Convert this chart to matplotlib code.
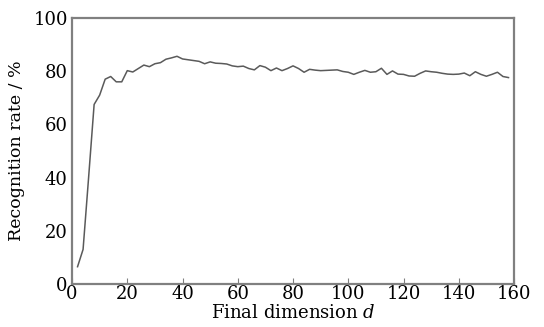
import matplotlib
matplotlib.use("Agg")
import matplotlib.pyplot as plt

dims = list(range(2, 160, 2))
rates = [6.5, 13, 40, 67.5, 71, 77, 78, 76, 76, 80.2,
         79.7, 81, 82.3, 81.7, 82.8, 83.2, 84.5, 85, 85.6, 84.6,
         84.3, 84, 83.7, 82.8, 83.5, 83, 82.9, 82.7, 82, 81.7,
         81.9, 81, 80.5, 82.1, 81.5, 80.2, 81.2, 80.2, 81, 82,
         81, 79.6, 80.7, 80.4, 80.2, 80.3, 80.4, 80.5, 79.9, 79.6,
         78.8, 79.6, 80.3, 79.6, 79.8, 81.1, 78.8, 80.1, 78.9, 78.8,
         78.2, 78.1, 79.2, 80.1, 79.8, 79.6, 79.2, 78.9, 78.8, 78.9,
         79.3, 78.3, 79.8, 78.8, 78.1, 78.8, 79.6, 78, 77.6]
xticks = [0, 20, 40, 60, 80, 100, 120, 140, 160]
yticks = [0, 20, 40, 60, 80, 100]

plt.rcParams['font.family'] = ['DejaVu Serif']
plt.rcParams['mathtext.fontset'] = 'dejavuserif'

fig = plt.figure(figsize=(5.44, 3.27), dpi=100)
ax = fig.add_axes([0.1324, 0.1315, 0.8125, 0.8135])
ax.plot(dims, rates, color='#5a5a5a', lw=1.1)
ax.set_xlim(0, 160)
ax.set_ylim(0, 100)
ax.set_xticks(xticks)
ax.set_yticks(yticks)
ax.tick_params(axis='x', direction='in', length=4, color='#808080', labelsize=13, pad=1)
ax.tick_params(axis='y', direction='in', length=0, labelsize=13, pad=3)
for s in ax.spines.values():
    s.set_color('#808080')
    s.set_linewidth(1.6)
ax.set_xlabel('Final dimension $d$', fontsize=13, labelpad=0.5)
ax.set_ylabel('Recognition rate / %', fontsize=12.5, labelpad=6)
fig.savefig('out.png', dpi=100)
